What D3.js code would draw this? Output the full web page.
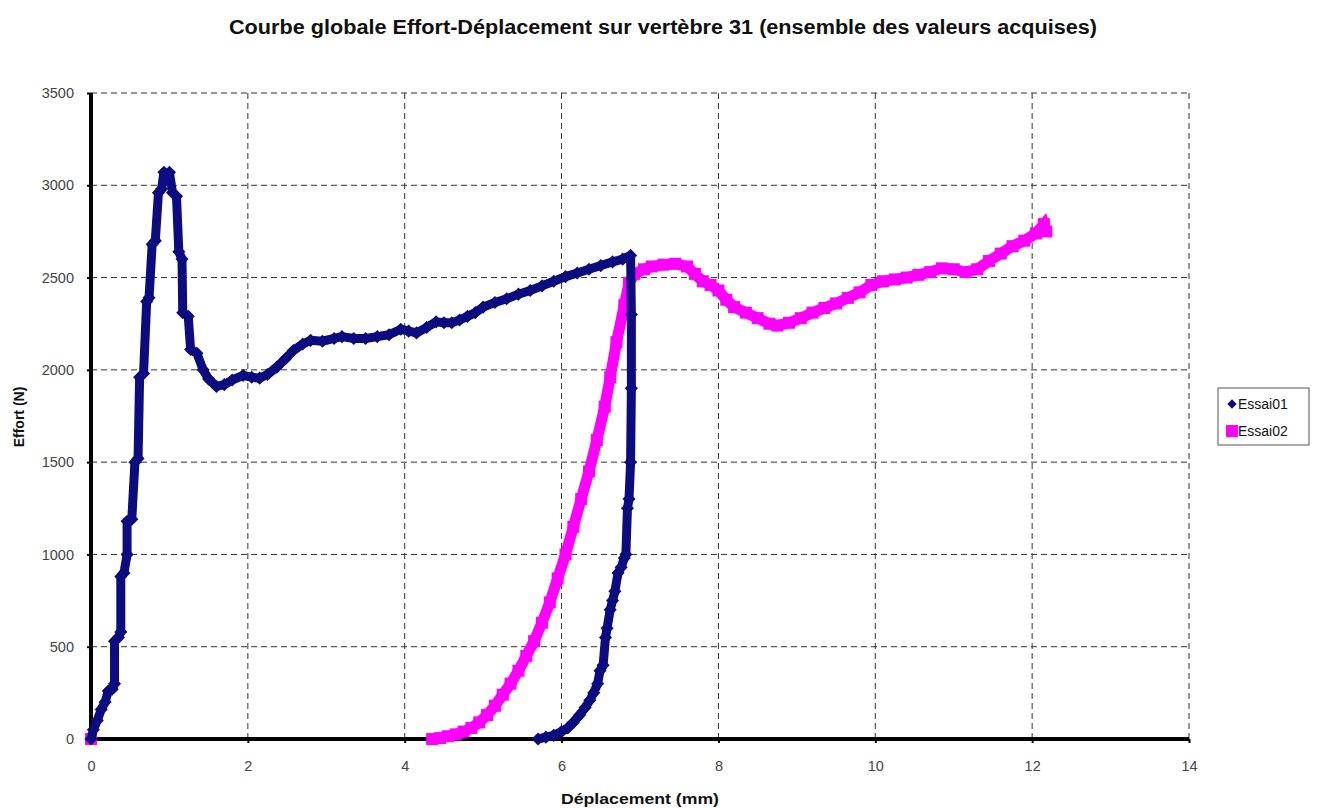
<!DOCTYPE html>
<html><head><meta charset="utf-8">
<script src="https://cdn.jsdelivr.net/npm/d3@7"></script>
<style>body{margin:0;background:#fff;} svg{display:block;font-family:"Liberation Sans",Arial,sans-serif;}</style>
</head><body>
<svg id="c" width="1317" height="808"></svg>
<script>
const titleText = "Courbe globale Effort-Déplacement sur vertèbre 31 (ensemble des valeurs acquises)";
const xLabel = "Déplacement (mm)";
const yLabel = "Effort (N)";
const xTicks = [0,2,4,6,8,10,12,14];
const yTicks = [0,500,1000,1500,2000,2500,3000,3500];
const seriesNames = ["Essai01","Essai02"];

const essai01X = [0,0.03,0.08,0.13,0.18,0.22,0.27,0.3,0.3,0.35,0.38,0.38,0.42,0.46,0.46,0.52,0.56,0.6,0.62,0.67,0.71,0.74,0.78,0.82,0.86,0.9,0.93,0.97,1.0,1.04,1.09,1.12,1.16,1.17,1.24,1.27,1.35,1.43,1.5,1.6,1.7,1.8,1.94,2.05,2.15,2.25,2.37,2.48,2.58,2.7,2.8,2.95,3.1,3.2,3.35,3.5,3.65,3.8,3.95,4.05,4.15,4.28,4.4,4.5,4.6,4.7,4.8,4.9,5.0,5.15,5.3,5.45,5.6,5.75,5.9,6.05,6.2,6.35,6.5,6.65,6.78,6.88,6.89,6.89,6.88,6.86,6.84,6.82,6.8,6.76,6.72,6.68,6.65,6.62,6.58,6.56,6.53,6.49,6.46,6.41,6.36,6.3,6.23,6.15,6.08,6.0,5.9,5.8,5.7];
const essai01Y = [0,50,100,160,200,260,270,300,530,550,580,880,900,1000,1180,1190,1500,1520,1960,1980,2370,2390,2680,2700,2960,2980,3070,3040,3070,2960,2940,2640,2600,2310,2290,2110,2090,2000,1950,1910,1920,1945,1970,1960,1955,1975,2015,2060,2105,2140,2160,2155,2170,2180,2170,2170,2180,2190,2220,2210,2200,2230,2260,2255,2255,2270,2290,2310,2340,2365,2385,2410,2430,2455,2480,2505,2525,2545,2565,2585,2600,2620,2300,1900,1500,1300,1250,1000,980,930,900,800,750,700,600,550,400,370,300,250,210,170,130,90,60,40,20,10,0];

const essai02X = [0,4.35,4.45,4.55,4.65,4.75,4.85,4.95,5.05,5.15,5.25,5.35,5.45,5.55,5.65,5.75,5.85,5.95,6.05,6.15,6.25,6.35,6.45,6.55,6.62,6.7,6.8,6.86,6.93,7.05,7.15,7.3,7.45,7.6,7.7,7.8,7.9,8.0,8.1,8.2,8.35,8.5,8.65,8.75,8.9,9.05,9.2,9.35,9.5,9.65,9.8,9.95,10.1,10.25,10.4,10.55,10.7,10.85,11.0,11.15,11.3,11.45,11.6,11.75,11.9,12.05,12.15,12.18];
const essai02Y = [0,0,5,15,25,40,60,90,130,180,240,300,370,450,530,630,740,870,1000,1150,1300,1450,1620,1800,1960,2150,2350,2470,2520,2545,2560,2570,2575,2560,2520,2480,2460,2430,2380,2340,2310,2280,2250,2240,2255,2280,2310,2335,2360,2390,2420,2460,2480,2490,2500,2515,2530,2550,2545,2530,2545,2590,2630,2670,2700,2740,2790,2750];

const svg = d3.select("#c");
const m = {l:91, r:1189, t:93, b:739};
const x = d3.scaleLinear().domain([0,14]).range([m.l, m.r]);
const y = d3.scaleLinear().domain([0,3500]).range([m.b, m.t]);

// grid
const g = svg.append("g");
g.selectAll(".gx").data(xTicks.slice(1)).join("line")
  .attr("x1",d=>x(d)).attr("x2",d=>x(d)).attr("y1",m.t).attr("y2",m.b)
  .attr("stroke","#333").attr("stroke-width",1).attr("stroke-dasharray","6,4");
g.selectAll(".gy").data(yTicks.slice(1)).join("line")
  .attr("x1",m.l).attr("x2",m.r).attr("y1",d=>y(d)).attr("y2",d=>y(d))
  .attr("stroke","#333").attr("stroke-width",1).attr("stroke-dasharray","6,4");

// axes
const fmt = d3.format("d");
const xAxis = svg.append("g").attr("transform",`translate(0,${m.b})`)
  .call(d3.axisBottom(x).tickValues(xTicks).tickFormat(fmt).tickSize(4).tickPadding(18));
const yAxis = svg.append("g").attr("transform",`translate(${m.l},0)`)
  .call(d3.axisLeft(y).tickValues(yTicks).tickFormat(fmt).tickSize(4).tickPadding(13));
[xAxis,yAxis].forEach(a=>{
  a.select(".domain").attr("stroke","#000").attr("stroke-width",4);
  a.selectAll(".tick line").attr("stroke","#000").attr("stroke-width",2);
  a.selectAll(".tick text").attr("font-size",14.5).attr("fill","#444").attr("font-family","Liberation Sans, Arial, sans-serif");
});
xAxis.select(".domain").attr("d",`M${m.l-2},0H${m.r}`);
yAxis.select(".domain").attr("d",`M0,${m.t}V${m.b+2}`);

// series
const s1 = essai01X.map((v,i)=>[v,essai01Y[i]]);
const s2 = essai02X.map((v,i)=>[v,essai02Y[i]]);
const line = d3.line().x(d=>x(d[0])).y(d=>y(d[1]));
const c1 = "#0c0c80", c2 = "#ff00ff";

svg.append("path").attr("d",line(s2.slice(1))).attr("fill","none").attr("stroke",c2).attr("stroke-width",11).attr("stroke-linejoin","miter");
svg.selectAll(".m2").data(s2).join("rect")
  .attr("x",d=>x(d[0])-6).attr("y",d=>y(d[1])-6).attr("width",12).attr("height",12).attr("fill",c2);

svg.append("path").attr("d",line(s1)).attr("fill","none").attr("stroke",c1).attr("stroke-width",9).attr("stroke-linejoin","round");
const diamond = d3.symbol().type(d3.symbolDiamond2).size(110);
svg.selectAll(".m1").data(s1).join("path")
  .attr("d",diamond).attr("transform",d=>`translate(${x(d[0])},${y(d[1])})`).attr("fill",c1);

// title and labels
svg.append("text").attr("x",663).attr("y",34).attr("text-anchor","middle")
  .attr("font-size",20).attr("font-weight","bold").attr("fill","#111")
  .attr("textLength",868).attr("lengthAdjust","spacingAndGlyphs").text(titleText);
svg.append("text").attr("x",640).attr("y",804).attr("text-anchor","middle")
  .attr("font-size",15).attr("font-weight","bold").attr("fill","#111")
  .attr("textLength",158).attr("lengthAdjust","spacingAndGlyphs").text(xLabel);
svg.append("text").attr("transform","translate(24,417) rotate(-90)").attr("text-anchor","middle")
  .attr("font-size",14).attr("font-weight","bold").attr("fill","#111").text(yLabel);

// legend
const lg = svg.append("g").attr("transform","translate(1218,388)");
lg.append("rect").attr("x",0).attr("y",0).attr("width",91).attr("height",57).attr("fill","#fff").attr("stroke","#555").attr("stroke-width",1);
const items = lg.selectAll(".li").data(seriesNames).join("g").attr("transform",(d,i)=>`translate(0,${16+i*27})`);
items.each(function(d,i){
  const it = d3.select(this);
  if(i===0) it.append("path").attr("d",d3.symbol().type(d3.symbolDiamond2).size(55)).attr("transform","translate(14,0)").attr("fill",c1);
  else it.append("rect").attr("x",8).attr("y",-6).attr("width",12).attr("height",12).attr("fill",c2);
  it.append("text").attr("x",20).attr("y",5).attr("font-size",14).attr("fill","#111").text(d);
});
</script>
</body></html>
